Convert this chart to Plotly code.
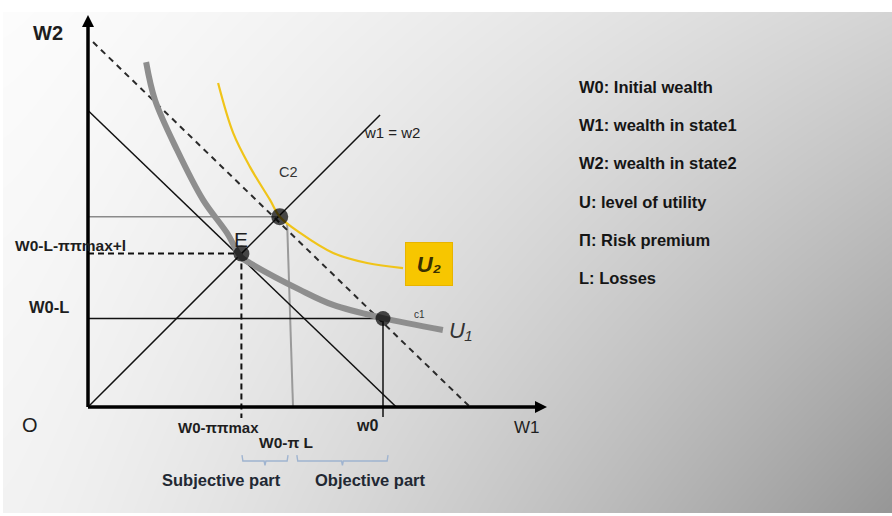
import base64
import struct
import zlib

import plotly.graph_objects as go

# ---------------- data (diagram units, W0 = 100) ----------------
W0 = 100.0
LOSS = 70.0
E_PT = (52.0, 52.0)          # certainty equivalent point E
C2_PT = (65.0, 64.5)         # expected wealth point C2
C1_PT = (W0, W0 - LOSS)      # endowment point C1

# indifference curves
u1_w1 = [19.7, 22.7, 30.2, 39.0, 47.1, 51.9, 54.9, 71.9, 83.1, 99.7, 120.3]
u1_w2 = [116.9, 104.1, 87.1, 70.2, 59.0, 50.8, 48.8, 39.7, 34.6, 30.2, 26.1]
u2_w1 = [44.1, 49.2, 54.9, 61.7, 65.1, 71.9, 83.1, 94.6, 106.8]
u2_w2 = [109.8, 92.9, 81.4, 70.2, 64.4, 59.0, 52.2, 48.8, 47.1]

# straight lines
fair_w1 = [1.7, 129.5]       # dashed fair-odds line
fair_w2 = [123.7, 0.0]
budget_w1 = [0.0, 104.5]     # solid budget line
budget_w2 = [100.5, 0.0]
cert_w1 = [0.0, 99.0]        # w1 = w2 line
cert_w2 = [0.0, 99.0]
pi_w1 = [67.5, 69.5]         # grey drop line from C2
pi_w2 = [62.4, 0.0]

subj_span = [52.2, 67.8]
obj_span = [70.8, 101.7]

legend_lines = ["W0: Initial wealth", "W1: wealth in state1", "W2: wealth in state2",
                "U: level of utility", "Π: Risk premium", "L: Losses"]

# ---------------- layout helpers ----------------
FIG_W, FIG_H = 892, 516
ORIG_PX = (88.0, 407.0)
SCALE = 2.95                 # pixels per diagram unit
x_range = [-ORIG_PX[0] / SCALE, (FIG_W - ORIG_PX[0]) / SCALE]
y_range = [-(FIG_H - ORIG_PX[1]) / SCALE, ORIG_PX[1] / SCALE]
Y_TOP = (ORIG_PX[1] - 15) / SCALE
X_RIGHT = (547 - ORIG_PX[0]) / SCALE

FONT = "Liberation Sans, Arial, sans-serif"
INK = "#1e1e1e"


def make_background():
    rows = []
    for y in range(FIG_H):
        row = bytearray([0])
        yf = (y - 12) / (513 - 12)
        for x in range(FIG_W):
            if y < 12 or y >= 513 or x < 3:
                v = 255
            else:
                xf = ((x - 3) / (FIG_W - 3)) ** 1.3
                top = 252 - 40 * xf
                bot = 242 - 92 * xf
                v = int(round(top + (bot - top) * yf))
            row.append(v)
        rows.append(bytes(row))
    raw = b"".join(rows)

    def chunk(tag, data):
        c = struct.pack(">I", len(data)) + tag + data
        return c + struct.pack(">I", zlib.crc32(tag + data) & 0xFFFFFFFF)

    png = b"\x89PNG\r\n\x1a\n"
    png += chunk(b"IHDR", struct.pack(">IIBBBBB", FIG_W, FIG_H, 8, 0, 0, 0, 0))
    png += chunk(b"IDAT", zlib.compress(raw, 9))
    png += chunk(b"IEND", b"")
    return "data:image/png;base64," + base64.b64encode(png).decode()


fig = go.Figure()


def line(xs, ys, color, width, dash="solid", shape="linear"):
    fig.add_trace(go.Scatter(x=xs, y=ys, mode="lines", hoverinfo="skip",
                             line=dict(color=color, width=width, dash=dash, shape=shape),
                             showlegend=False))


# thin guide lines
line([0, C2_PT[0]], [C2_PT[1], C2_PT[1]], "#8a8a8a", 1.5)
line(pi_w1, pi_w2, "#9a9a9a", 2)
line([0, C1_PT[0]], [C1_PT[1], C1_PT[1]], "#111111", 1.5)
line([C1_PT[0], C1_PT[0]], [C1_PT[1], -3.4], "#111111", 1.5)
line(budget_w1, budget_w2, "#111111", 1.5)
line(cert_w1, cert_w2, "#111111", 1.5)
line(fair_w1, fair_w2, "#2a2a2a", 2, dash="6px,5px")
line([0, E_PT[0]], [E_PT[1], E_PT[1]], "#111111", 2, dash="6px,4px")
line([E_PT[0], E_PT[0]], [E_PT[1], -3.7], "#111111", 2, dash="6px,4px")

# indifference curves
line(u2_w1, u2_w2, "#F0C419", 2.2, shape="spline")
line(u1_w1, u1_w2, "#8e8e8e", 6, shape="spline")

# axes with arrow heads
line([0, 0], [0, Y_TOP - 8 / SCALE], "#000000", 3.5)
line([0, X_RIGHT - 8 / SCALE], [0, 0], "#000000", 3.5)
fig.add_trace(go.Scatter(x=[0, X_RIGHT], y=[Y_TOP, 0], mode="markers", hoverinfo="skip",
                         showlegend=False,
                         marker=dict(symbol=["arrow-up", "arrow-right"], size=12, color="#000000",
                                     line=dict(width=0))))

# points
fig.add_trace(go.Scatter(x=[E_PT[0], C2_PT[0], C1_PT[0]], y=[E_PT[1], C2_PT[1], C1_PT[1]],
                         mode="markers", hoverinfo="skip", showlegend=False,
                         marker=dict(color="#000000", size=[16, 17, 15], line=dict(width=0))))

# braces
BR_COL = "#9fb4d0"
for a, b in (subj_span, obj_span):
    m = (a + b) / 2
    line([a, a + 0.3, m - 0.3, m, m + 0.3, b - 0.3, b],
         [-16.3, -18.3, -18.3, -19.8, -18.3, -18.3, -16.3], BR_COL, 1.4)

annotations = []


def label(x, y, text, size, bold=False, italic=False, color=INK, family=FONT, **kw):
    annotations.append(dict(x=x, y=y, xref="x", yref="y", text=text, showarrow=False,
                            font=dict(size=size, color=color, family=family,
                                      weight="bold" if bold else "normal",
                                      style="italic" if italic else "normal"), **kw))


label(-13.6, 126.8, "W2", 20, bold=True)
label(-19.7, -6.1, "O", 20)
label(148.8, -6.8, "W1", 17)
label(-6.1, 54.9, "W0-L-ππmax+l", 15.5, bold=True)
label(-13.2, 33.9, "W0-L", 16.5, bold=True)
label(44.4, -7.1, "W0-ππmax", 15, bold=True)
label(67.1, -12.2, "W0-π L", 15.5, bold=True)
label(94.6, -6.1, "w0", 16, bold=True)
label(45.1, -24.7, "Subjective part", 16.5, bold=True, color="#222833")
label(95.6, -24.7, "Objective part", 16.5, bold=True, color="#222833")
label(68.0, 79.7, "C2", 14.5, color="#333333")
label(52.0, 56.9, "E", 21)
label(103.0, 92.9, "w1 = w2", 15, color="#222222")
label(112.5, 31.5, "c1", 10, color="#333333")
label(126.1, 26.1, "U₁", 22, italic=True, color="#333333")
label(115.6, 48.6, "U₂", 22, italic=True, bold=True, color="#3a3000",
      bgcolor="#F7C600", bordercolor="#E8B400", borderwidth=1, width=44, height=40)

# right-hand key
key_y = [87, 125, 163, 202, 240, 278]
for txt, ypx in zip(legend_lines, key_y):
    annotations.append(dict(x=577 / FIG_W, y=1 - ypx / FIG_H, xref="paper", yref="paper",
                            xanchor="left", yanchor="middle", text=txt, showarrow=False,
                            font=dict(size=16.5, color="#151515", family=FONT, weight="bold")))

fig.update_layout(
    width=FIG_W, height=FIG_H, margin=dict(l=0, r=0, t=0, b=0),
    paper_bgcolor="#ffffff", plot_bgcolor="rgba(0,0,0,0)",
    xaxis=dict(range=x_range, visible=False, fixedrange=True),
    yaxis=dict(range=y_range, visible=False, fixedrange=True),
    annotations=annotations,
    images=[dict(source=make_background(), xref="paper", yref="paper", x=0, y=1,
                 sizex=1, sizey=1, xanchor="left", yanchor="top", sizing="stretch", layer="below")],
)

fig.write_html("out.html", config={"displayModeBar": False},
               post_script="document.body.style.margin='0';document.body.style.overflow='hidden';")
